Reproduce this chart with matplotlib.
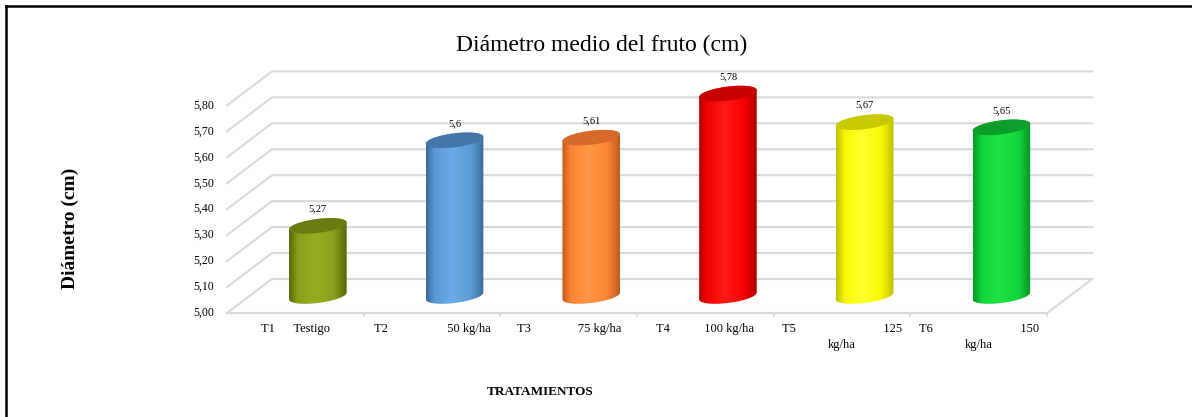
import matplotlib
matplotlib.use("Agg")
import matplotlib.pyplot as plt
import numpy as np
from matplotlib.colors import LinearSegmentedColormap
from matplotlib.lines import Line2D
from matplotlib.patches import Polygon

plt.rcParams["font.family"] = ["Liberation Serif", "DejaVu Serif"]

# data
categories = [
    "T1      Testigo",
    "T2" + " " * 19 + "50 kg/ha",
    "T3" + " " * 15 + "75 kg/ha",
    "T4" + " " * 11 + "100 kg/ha",
    "T5" + " " * 28 + "125\nkg/ha",
    "T6" + " " * 28 + "150\nkg/ha",
]
values = [5.27, 5.60, 5.61, 5.78, 5.67, 5.65]
value_labels = ["5,27", "5,6", "5,61", "5,78", "5,67", "5,65"]
y_ticks = [5.00, 5.10, 5.20, 5.30, 5.40, 5.50, 5.60, 5.70, 5.80]
y_base = 5.00

# (dark edge, body, highlight, top cap)
bar_colors = [
    ("#55640a", "#8a9e18", "#97ae22", "#6a7b10"),
    ("#386a9a", "#5b9bd5", "#68abe8", "#4477a8"),
    ("#c05a1c", "#fb8534", "#ff9646", "#d9692a"),
    ("#b00000", "#f60000", "#ff1a1a", "#c80000"),
    ("#bebe00", "#f8f800", "#ffff30", "#c8c800"),
    ("#0a9426", "#12d638", "#1ce244", "#0c9d2a"),
]

W, H = 1192, 417
XLIM = (-1.6606, 7.0593)
YLIM = (4.5992, 6.2062)
GRID = "#d9d9d9"

fig = plt.figure(figsize=(W / 100, H / 100), dpi=100)
ax = fig.add_axes([0, 0, 1, 1])
ax.axis("off")

ppx = W / (XLIM[1] - XLIM[0])
ppy = H / (YLIM[1] - YLIM[0])
dx = 45 / ppx
dy = 34 / ppy
n = len(values)

# walls and floor
for v in y_ticks:
    ax.plot([0, dx, n + dx], [v, v + dy, v + dy], color=GRID, lw=1.5, zorder=1)
ax.plot([0, n, n + dx], [y_base, y_base, y_base + dy], color=GRID, lw=1.5, zorder=1)
for i in range(1, n + 1):
    ax.plot([i, i], [y_base, y_base - 3 / ppy], color=GRID, lw=1.2, zorder=1)

for v in y_ticks:
    ax.text(-13 / ppx, v, f"{v:.2f}".replace(".", ","), ha="right", va="center", fontsize=8.5)

# cylinders
a_px, b_px, shear = 28.8, 7.0, 0.12


def ellipse(cx, cy, t):
    xs = a_px * np.cos(t)
    ys = b_px * np.sin(t) + shear * xs
    return cx + xs / ppx, cy + ys / ppy


grad = np.linspace(0, 1, 256)[None, :]
for i, (v, lab, cols) in enumerate(zip(values, value_labels, bar_colors)):
    dark, body, light, top_col = cols
    cx = i + 0.5 + dx / 2
    y0 = y_base + dy / 2
    y1 = v + dy / 2
    bx, by = ellipse(cx, y0, np.linspace(np.pi, 2 * np.pi, 80))
    tx, ty = ellipse(cx, y1, np.linspace(0, np.pi, 80))
    outline = Polygon(np.column_stack([np.r_[bx, tx], np.r_[by, ty]]), closed=True,
                      facecolor="none", edgecolor="none")
    ax.add_patch(outline)
    cmap = LinearSegmentedColormap.from_list(
        f"cyl{i}", [(0, dark), (0.15, body), (0.45, light), (0.78, body), (1, dark)])
    im = ax.imshow(grad, cmap=cmap, aspect="auto", interpolation="bilinear", zorder=2,
                   extent=[cx - a_px / ppx, cx + a_px / ppx, y0 - 12 / ppy, y1 + 12 / ppy])
    im.set_clip_path(outline)
    cx_, cy_ = ellipse(cx, y1, np.linspace(0, 2 * np.pi, 120))
    ax.add_patch(Polygon(np.column_stack([cx_, cy_]), closed=True, facecolor=top_col,
                         edgecolor="none", zorder=3))
    ax.text(cx, y1 + 17 / ppy, lab, ha="center", va="center", fontsize=7.5, zorder=4)

for i, cat in enumerate(categories):
    ax.text(i + 0.5, y_base - 10 / ppy, cat, ha="center", va="top", multialignment="center",
            fontsize=9, linespacing=1.45)

ax.set_xlim(XLIM)
ax.set_ylim(YLIM)

fig.text(602 / W, 1 - 45 / H, "Diámetro medio del fruto (cm)", ha="center", va="center", fontsize=17)
fig.text(70 / W, 1 - 228 / H, "Diámetro (cm)", rotation=90, ha="center", va="center",
         fontsize=14, fontweight="bold")
fig.text(540 / W, 1 - 392 / H, "TRATAMIENTOS", ha="center", va="center", fontsize=9.5,
         fontweight="bold")

fig.add_artist(Line2D([6 / W, 1], [1 - 6 / H, 1 - 6 / H], color="black", lw=1.8))
fig.add_artist(Line2D([6 / W, 6 / W], [0, 1 - 6 / H], color="black", lw=1.8))

fig.savefig("out.png", dpi=100)
